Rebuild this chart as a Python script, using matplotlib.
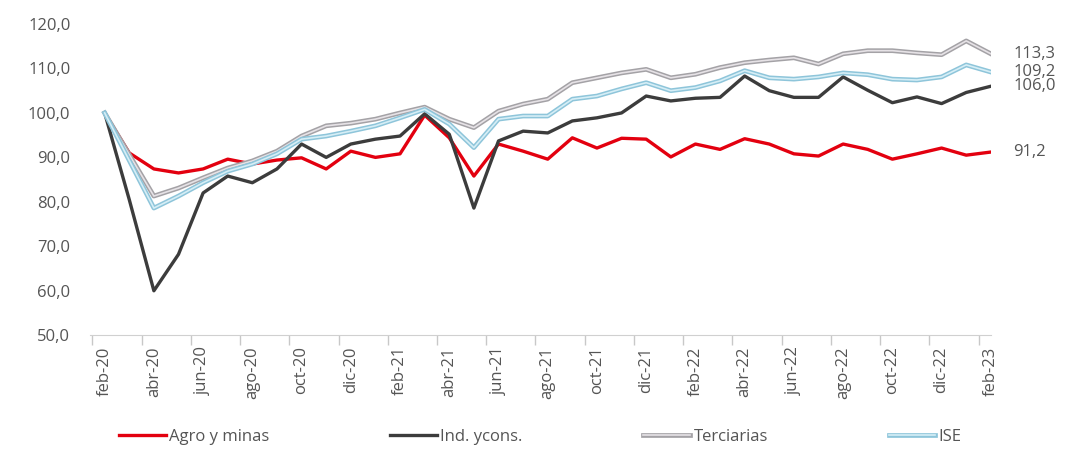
import matplotlib
matplotlib.use('Agg')
import matplotlib.pyplot as plt
import matplotlib.patheffects as pe
import numpy as np

# Meses feb-20 .. feb-23
meses = ['feb-20', 'mar-20', 'abr-20', 'may-20', 'jun-20', 'jul-20', 'ago-20', 'sep-20',
         'oct-20', 'nov-20', 'dic-20', 'ene-21', 'feb-21', 'mar-21', 'abr-21', 'may-21',
         'jun-21', 'jul-21', 'ago-21', 'sep-21', 'oct-21', 'nov-21', 'dic-21', 'ene-22',
         'feb-22', 'mar-22', 'abr-22', 'may-22', 'jun-22', 'jul-22', 'ago-22', 'sep-22',
         'oct-22', 'nov-22', 'dic-22', 'ene-23', 'feb-23']

agro = [100, 91.0, 87.4, 86.5, 87.4, 89.6, 88.5, 89.4, 89.9, 87.4, 91.4, 90.0, 90.8,
        99.5, 94.4, 85.8, 93.0, 91.4, 89.6, 94.4, 92.1, 94.3, 94.1, 90.1, 93.0, 91.8,
        94.2, 93.0, 90.8, 90.3, 93.0, 91.8, 89.6, 90.8, 92.1, 90.5, 91.2]

ind = [100, 80.5, 60.0, 68.2, 82.0, 85.8, 84.3, 87.4, 93.0, 90.0, 93.0, 94.1, 94.8,
       99.8, 95.2, 78.6, 93.7, 95.9, 95.5, 98.2, 98.9, 100.0, 103.8, 102.7, 103.3, 103.5,
       108.3, 105.0, 103.5, 103.5, 108.1, 105.1, 102.3, 103.6, 102.1, 104.6, 106.0]

terciarias = [100, 90.6, 81.3, 83.1, 85.4, 87.6, 89.2, 91.4, 94.8, 97.1, 97.7, 98.6, 100.0,
              101.3, 98.6, 96.7, 100.4, 102.0, 103.1, 106.8, 107.9, 109.0, 109.8, 107.9, 108.7,
              110.2, 111.3, 111.9, 112.4, 111.0, 113.3, 114.0, 114.0, 113.5, 113.1, 116.2, 113.3]

ise = [100, 89.3, 78.6, 81.3, 84.3, 86.9, 88.5, 90.8, 94.1, 94.8, 95.9, 97.1, 98.9,
       100.8, 97.5, 92.2, 98.6, 99.3, 99.3, 103.1, 103.8, 105.4, 106.8, 105.0, 105.7, 107.2,
       109.5, 107.9, 107.6, 108.1, 109.0, 108.6, 107.6, 107.4, 108.1, 110.8, 109.2]

plt.rcParams['font.family'] = ['Open Sans', 'DejaVu Sans']
gris_txt = '#555555'

fig = plt.figure(figsize=(10.7, 4.53), dpi=100)
ax = fig.add_axes([0.084, 0.26, 0.842, 0.687])

x = np.arange(len(meses))

ax.plot(x, agro, color='#e3000f', lw=2.4, label='Agro y minas', solid_joinstyle='round')
ax.plot(x, ind, color='#3c3c3c', lw=2.4, label='Ind. ycons.', solid_joinstyle='round')
ax.plot(x, terciarias, color='#e6e2e6', lw=1.2, label='Terciarias',
        path_effects=[pe.Stroke(linewidth=3.4, foreground='#a4a2a6'), pe.Normal()])
ax.plot(x, ise, color='#d6eef6', lw=1.2, label='ISE',
        path_effects=[pe.Stroke(linewidth=3.4, foreground='#8ec5da'), pe.Normal()])

# Etiquetas del último dato
for serie in [terciarias, ise, ind, agro]:
    ax.annotate(f'{serie[-1]:.1f}'.replace('.', ','), xy=(x[-1], serie[-1]),
                xytext=(16, 0), textcoords='offset points', va='center', ha='left',
                fontsize=12, color=gris_txt, annotation_clip=False)

ax.set_ylim(50, 120)
ax.set_xlim(-0.6, 36.0)
ax.set_yticks(np.arange(50, 121, 10))
ax.set_yticklabels([f'{v:.1f}'.replace('.', ',') for v in np.arange(50, 121, 10)])

ax.set_xticks(x[::2])
ax.set_xticklabels(meses[::2], rotation=90)
ax.set_xticks(x[::2] - 0.5, minor=True)
ax.tick_params(axis='x', which='major', length=0, pad=8, labelsize=12, labelcolor=gris_txt)
ax.tick_params(axis='x', which='minor', length=7, color='#c8c8c8', width=1)
ax.tick_params(axis='y', length=0, pad=14, labelsize=12, labelcolor=gris_txt)

for s in ['top', 'right', 'left']:
    ax.spines[s].set_visible(False)
ax.spines['bottom'].set_color('#d0d0d0')

fig.legend(loc='center', bbox_to_anchor=(0.105, 0.0, 0.80, 0.07), mode='expand',
           ncol=4, frameon=False, fontsize=12, handlelength=2.8, handletextpad=0.2,
           labelcolor=gris_txt, borderaxespad=0)

plt.savefig('out.png', dpi=100)
